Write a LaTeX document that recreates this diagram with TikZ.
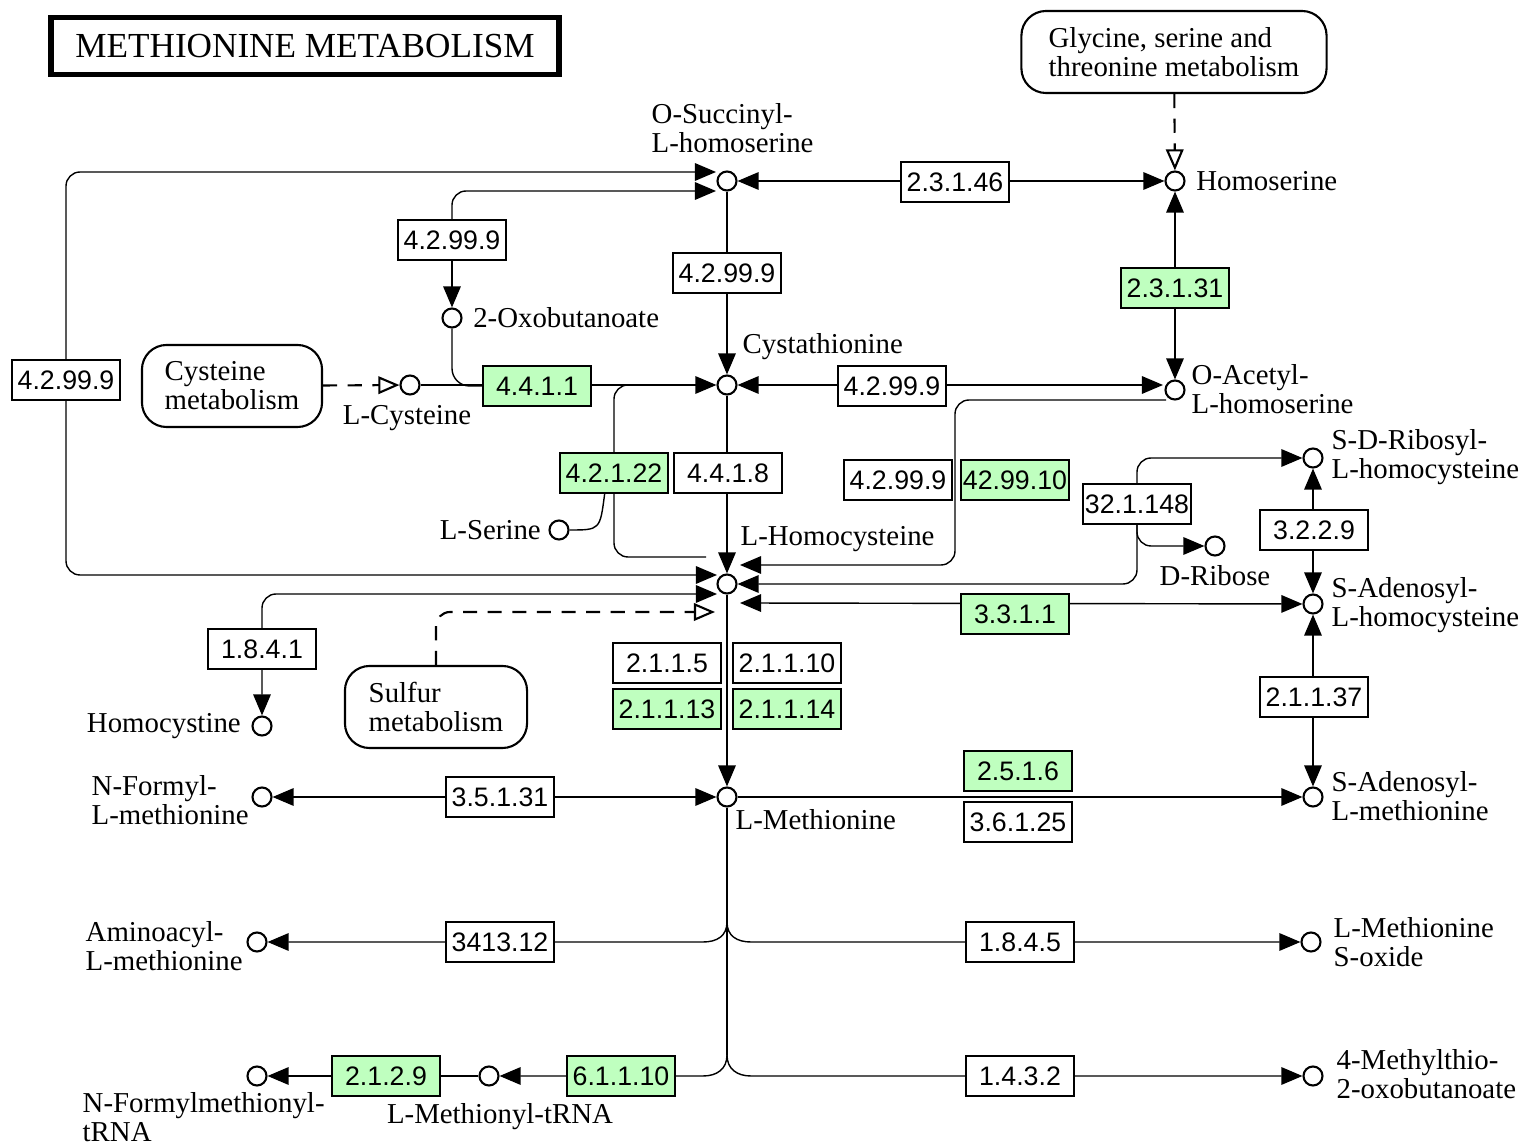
\documentclass[tikz,border=0pt]{standalone}
\usepackage{fontspec}
\setmainfont{Liberation Serif}
\setsansfont{Liberation Sans}
\usetikzlibrary{arrows.meta,positioning,backgrounds}
\definecolor{ecgreen}{RGB}{191,255,191}
\newcommand\cpdfont{\fontsize{8.2}{8.2}\selectfont}
\newcommand\ecfont{\sffamily\fontsize{7.6}{9}\selectfont}

\begin{document}
\begin{tikzpicture}[
x=0.01cm, y=-0.01cm,
font=\cpdfont,
cpd/.style={circle, draw, line width=0.6pt, fill=white, minimum size=0.19cm, inner sep=0pt},
lbl/.style={inner sep=0pt, align=left},
enz/.style={draw, line width=0.6pt, fill=white, minimum width=1.08cm, minimum height=0.40cm, inner sep=0pt, font=\ecfont},
enzg/.style={enz, fill=ecgreen},
pmap/.style={draw, line width=0.6pt, rounded corners=7pt, fill=white, align=left, minimum height=0.82cm, inner sep=0pt},
rx/.style={line width=0.6pt, >={Triangle[length=6pt,width=5pt]}},
mlink/.style={line width=0.6pt, dash pattern=on 4pt off 3pt, -{Triangle[open,length=6pt,width=5pt]}}
]
\useasboundingbox (0,0) rectangle (1520,1143);

    % Title
    \node[draw, line width=1.6pt, minimum width=5.08cm, minimum height=0.57cm,
          font=\fontsize{10}{12}\selectfont] (title) at (305,46) {METHIONINE METABOLISM};

    % Pathway maps
    \node[pmap, minimum width=3.05cm] (mapGly) at (1174,52) {Glycine, serine and\\threonine metabolism};
    \node[pmap, minimum width=1.80cm] (mapCys) at (232,386) {Cysteine\\metabolism};
    \node[pmap, minimum width=1.82cm] (mapSul) at (436,707) {Sulfur\\metabolism};

    % Compounds
    \node[cpd] (OSucc) at (727,181) {};
    \node[cpd] (Hser) at (1175,181) {};
    \node[cpd] (Oxob) at (452,318) {};
    \node[cpd] (LCys) at (410,385) {};
    \node[cpd] (Cysta) at (727,385) {};
    \node[cpd] (OAcHs) at (1175,390) {};
    \node[cpd] (SRib) at (1313,458) {};
    \node[cpd] (LSer) at (559,530) {};
    \node[cpd] (DRib) at (1215,546) {};
    \node[cpd] (LHcy) at (727,584) {};
    \node[cpd] (SAH) at (1313,604) {};
    \node[cpd] (Hcyst) at (262,726) {};
    \node[cpd] (FMet) at (262,797) {};
    \node[cpd] (LMet) at (727,797) {};
    \node[cpd] (SAM) at (1313,797) {};
    \node[cpd] (AAMet) at (257,942) {};
    \node[cpd] (MetSO) at (1311,942) {};
    \node[cpd] (fMtRNA) at (257,1076) {};
    \node[cpd] (MtRNA) at (489,1076) {};
    \node[cpd] (MTOB) at (1313,1076) {};

    % Compound names
    \node[lbl, anchor=west] at (651,128) {O-Succinyl-\\L-homoserine};
    \node[lbl, right=0.1cm of Hser] {Homoserine};
    \node[lbl, right=0.1cm of Oxob] {2-Oxobutanoate};
    \node[lbl, below=0.09cm of LCys, xshift=-0.03cm] {L-Cysteine};
    \node[lbl, anchor=west] at (742,347) {Cystathionine};
    \node[lbl, anchor=west] at (1191,389) {O-Acetyl-\\L-homoserine};
    \node[lbl, anchor=west] at (1331,457) {S-D-Ribosyl-\\L-homocysteine};
    \node[lbl, left=0.07cm of LSer] {L-Serine};
    \node[lbl, below=0.08cm of DRib] {D-Ribose};
    \node[lbl, anchor=west] at (740,539) {L-Homocysteine};
    \node[lbl, anchor=west] at (1331,605) {S-Adenosyl-\\L-homocysteine};
    \node[lbl, left=0.1cm of Hcyst] {Homocystine};
    \node[lbl, anchor=west] at (91,800) {N-Formyl-\\L-methionine};
    \node[lbl, anchor=west] at (735,820) {L-Methionine};
    \node[lbl, anchor=west] at (1331,796) {S-Adenosyl-\\L-methionine};
    \node[lbl, anchor=west] at (85,946) {Aminoacyl-\\L-methionine};
    \node[lbl, anchor=west] at (1333,942) {L-Methionine\\S-oxide};
    \node[lbl, anchor=west] at (82,1117) {N-Formylmethionyl-\\tRNA};
    \node[lbl] at (500,1117) {L-Methionyl-tRNA};
    \node[lbl, anchor=west] at (1336,1074) {4-Methylthio-\\2-oxobutanoate};

    % Enzymes
    \node[enz] (e23146) at (955,182) {2.3.1.46};
    \node[enz] (e42999a) at (452,240) {4.2.99.9};
    \node[enz] (e42999b) at (727,273) {4.2.99.9};
    \node[enzg] (e23131) at (1175,288) {2.3.1.31};
    \node[enz] (e42999L) at (66,380) {4.2.99.9};
    \node[enzg] (e4411) at (537,386) {4.4.1.1};
    \node[enz] (e42999c) at (892,386) {4.2.99.9};
    \node[enzg] (e42122) at (614,473) {4.2.1.22};
    \node[enz] (e4418) at (728,473) {4.4.1.8};
    \node[enz] (e42999d) at (898,480) {4.2.99.9};
    \node[enzg] (e429910) at (1015,480) {42.99.10};
    \node[enz] (e321148) at (1137,504) {32.1.148};
    \node[enz] (e3229) at (1314,530) {3.2.2.9};
    \node[enzg] (e3311) at (1015,614) {3.3.1.1};
    \node[enz] (e1841) at (262,649) {1.8.4.1};
    \node[enz] (e2115) at (667,663) {2.1.1.5};
    \node[enz] (e21110) at (787,663) {2.1.1.10};
    \node[enzg] (e21113) at (667,709) {2.1.1.13};
    \node[enzg] (e21114) at (787,709) {2.1.1.14};
    \node[enz] (e21137) at (1314,697) {2.1.1.37};
    \node[enzg] (e2516) at (1018,771) {2.5.1.6};
    \node[enz] (e36125) at (1018,822) {3.6.1.25};
    \node[enz] (e35131) at (500,797) {3.5.1.31};
    \node[enz] (e341312) at (500,942) {3413.12};
    \node[enz] (e1845) at (1020,942) {1.8.4.5};
    \node[enzg] (e2129) at (386,1076) {2.1.2.9};
    \node[enzg] (e61110) at (621,1076) {6.1.1.10};
    \node[enz] (e1432) at (1020,1076) {1.4.3.2};

    % Docking points
    \coordinate (OSuccL1) at (716,172);
    \coordinate (OSuccL2) at (716,191);
    \coordinate (LHcyL1) at (717,575);
    \coordinate (LHcyL2) at (717,594);
    \coordinate (LHcyL3) at (715,612);
    \coordinate (LHcyR1) at (740,565);
    \coordinate (LHcyR3) at (740,603);
    \coordinate (LHcyT) at (706,557);
    \coordinate (OAcL1) at (1163,385);
    \coordinate (OAcL2) at (1166,400);
    \coordinate (b4411) at (643,385);
    \coordinate (jOAc) at (955,480);
    \coordinate (jA) at (727,922);
    \coordinate (jB) at (727,1055);

    % Reactions
    \begin{scope}[on background layer, rx]
    \draw[<->] (OSucc) -- (Hser);
    \draw[<->] (Hser) -- (OAcHs);
    \draw[->] (OSucc) -- (Cysta);
    \draw[<->, rounded corners=4pt] (LHcyL1) -| (e42999L.center) |- (OSuccL1);
    \draw[->, rounded corners=4pt] (e42999a) |- (OSuccL2);
    \draw[->] (e42999a) -- (Oxob);
    \draw[rounded corners=5pt] (Oxob) |- (e4411.west);
    \draw[->] (LCys) -- (Cysta);
    \draw[<->] (Cysta) -- (OAcL1);
    \draw[->, rounded corners=4pt] (OAcL2) -| (jOAc) |- (LHcyR1);
    \draw[->] (Cysta) -- (LHcy);
    \draw[rounded corners=4pt] (b4411) -| (e42122.center) |- (LHcyT);
    \draw (LSer) .. controls (600,530) .. (e42122.-114);
    \draw[<->, rounded corners=4pt] (LHcy) -| (e321148.center) |- (SRib);
    \draw[->, rounded corners=4pt] (e321148.south) |- (DRib);
    \draw[<->] (LHcyR3) -- (SAH);
    \draw[<->] (SAH) -- (SRib);
    \draw[<->] (SAM) -- (SAH);
    \draw[->] (LMet) -- (SAM);
    \draw[<->] (FMet) -- (LMet);
    \draw[->] (LHcy) -- (LMet);
    \draw[<->, rounded corners=4pt] (LHcyL2) -| (Hcyst);
    \draw (LMet) -- (jB);
    \draw[->] (jA) .. controls (727,936) and (717,942) .. (703,942) -- (AAMet);
    \draw[->] (jA) .. controls (727,936) and (737,942) .. (751,942) -- (MetSO);
    \draw[->] (jB) .. controls (727,1069) and (717,1076) .. (703,1076) -- (MtRNA);
    \draw[->] (jB) .. controls (727,1069) and (737,1076) .. (751,1076) -- (MTOB);
    \draw[->] (MtRNA) -- (fMtRNA);
    % map links
    \draw[mlink] (mapGly) -- (Hser);
    \draw[mlink] (mapCys) -- (LCys);
    \draw[mlink, rounded corners=4pt] (mapSul.north) |- (LHcyL3);
    \end{scope}

\end{tikzpicture}
\end{document}
